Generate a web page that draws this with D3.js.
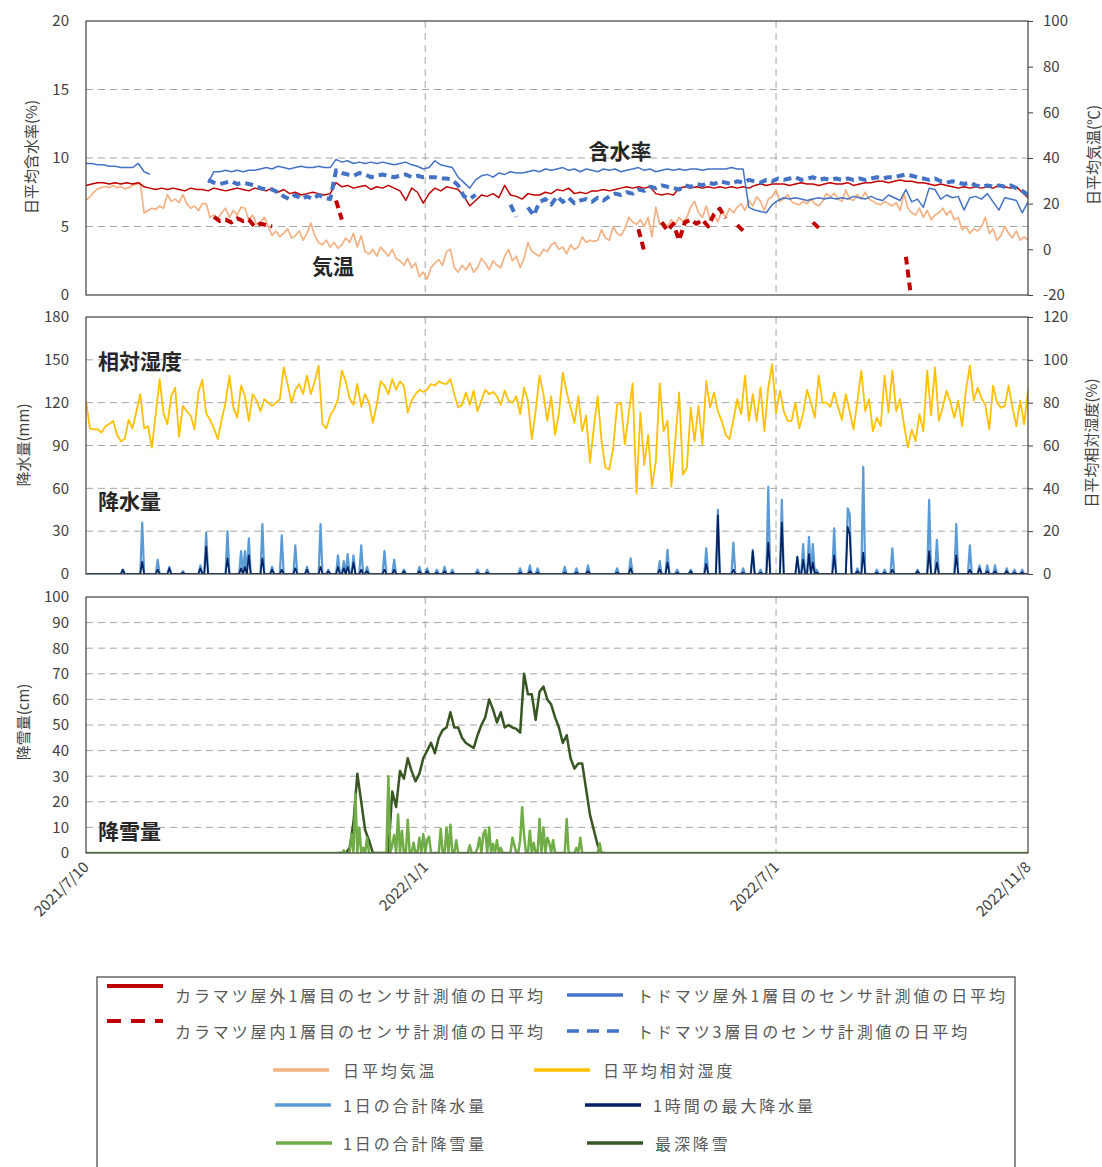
<!DOCTYPE html>
<html>
<head>
<meta charset="utf-8">
<script src="https://cdn.jsdelivr.net/npm/d3@7"></script>
<style>
  body { margin: 0; background: #fff; }
  svg text { font-family: "Noto Sans CJK JP", "Noto Sans", sans-serif; }
</style>
</head>
<body>
<svg id="chart" width="1102" height="1167"></svg>
<script>
// ---------- period ----------
const startDate = new Date(Date.UTC(2021, 6, 10));
const endDate = new Date(Date.UTC(2022, 10, 8));
const xTickDates = [new Date(Date.UTC(2021, 6, 10)), new Date(Date.UTC(2022, 0, 1)), new Date(Date.UTC(2022, 6, 1)), new Date(Date.UTC(2022, 10, 8))];
const xTickLabels = ["2021/7/10", "2022/1/1", "2022/7/1", "2022/11/8"];
const xGridDates = [new Date(Date.UTC(2022, 0, 1)), new Date(Date.UTC(2022, 6, 1))];

// ---------- axis ticks ----------
const moistureTicks = [0, 5, 10, 15, 20];
const tempTicks = [-20, 0, 20, 40, 60, 80, 100];
const rainTicks = [0, 30, 60, 90, 120, 150, 180];
const rhTicks = [0, 20, 40, 60, 80, 100, 120];
const snowTicks = [0, 10, 20, 30, 40, 50, 60, 70, 80, 90, 100];

// ---------- daily mean air temperature (℃), one value every 2 days ----------
const tempStepDays = 2;
const tempValues = [
  21.5,23,25,26.5,27,27.5,
  27,28,27,27.5,26.5,27,28,28.5,29,
  16,
  17,18,17.5,19,18,
  24,21,22,20.5,24,
  20,18,19,17,20,
  20,14,15,13.5,16,
  18,14,17,15,18.5,
  18,13,15,11,12,
  14,10,6,8,5.5,
  7,9,5,6,8,
  4,7,11.5,6,3,
  2,4,1,3,0.5,
  2,5,3,7,1,
  6,-1,-2,0,-3,
  1,-1,-3,0,-4,
  -5,-7,-4,-8,-6,
  -12,-10,-13,-8,-6,
  -4.5,-7,-1,0,-8,
  -10,-7,-9,-6,-10,
  -8,-4,-6,-9,-5,
  -7,-8,-3,0,-5,
  -3,-8,-4,3,-1,
  -2,-3,0,-1,2,
  3,0,1,-2,2,
  0,1,5.5,3,4,
  3.5,4,8.5,5,4,
  10,7,6,9,14,
  12,11,13,10,14,
  5.5,18.5,11,12,10,
  13,11,14,12,14,
  18.5,21,16,14,19,
  13,15,12,17,14,
  18,16,18.5,20,17,
  21.5,19,23,21,17,
  22,23,26,21,22,
  24,21,20,19.5,21,
  20,22,20,19,21,
  24.5,23,24.5,22,21,
  26,22,21.5,24,22,
  25,22,21,20,19.5,
  21,20,19,20.5,17,
  24.5,18,16,15,18,
  14,17,13,15,16,
  18,15,17,13,14,
  8.5,10,7,9,8,
  10,14,7,9,4,
  6,10,7,5,8,
  4,5.5,4
];

// ---------- daily mean relative humidity (%), one value every 2 days ----------
const rhStepDays = 2;
const rhValues = [
  81,68,67.5,67.5,66,69,70,71.5,65,62,
  63,72,68,76,84,68,69,59,75,91,
  75,70,83,87,64,78.5,76,74,67.5,85,
  90.6,75,72,68,63,72,80,92.6,78,73,
  88,83,71.5,84,81,76,81.6,80,78.5,80,
  81.6,96.5,88.7,80,86,88.7,84,92.6,84,90,
  97.3,70,68,74,77,81.6,95,90,82,79,
  88.7,78,84,80,70.6,79,90,88,84,91,
  86,90,88,75.4,81,84,86,85,86,88.7,
  88,90,89,88.7,91,84,77.7,79,84.8,79,
  85.6,76,81,86,84,85,83,79,85.6,81,
  80,83,74.6,87,81,63,76,92.6,84,71.5,
  83,65,75,94,85,77.7,70.6,83,66.7,74,
  52,68.3,83,62,49.6,48.8,59,79,80,60.5,
  75,89,37.7,75.4,51,65,40.8,52.6,89,66.7,
  71.5,40.8,62,84.8,46.4,49.6,77.7,62,78.5,60.5,
  90,77.7,84.8,76,71.5,65,63,72,81.6,74.6,
  92.6,71.5,84,71.5,87,66.7,87,98,75,85.6,
  76,71.5,71.5,80,68,75,86,80,73,92.6,
  80,80,78,84.8,78,72,84,76,67.5,81,
  95,76,81.6,66.7,73,69,92.6,75.4,95,76,
  81.6,70,59,67.5,62,74.6,66.7,95,74,96.5,
  71.5,78,85.6,80,73,81,69,86,97.3,81,
  87,82,79,67.5,88,80,77.7,78.5,88,77.7,
  69,81,70,85.6
];

// ---------- daily mean moisture content (%), one value every 3 days ----------
const moistureStepDays = 3;
// カラマツ屋外1層目
const karaOutValues = [
  8.0,8.1,8.2,8.2,8.1,8.2,8.1,8.2,8.1,8.2,
  7.9,7.8,7.7,7.8,7.7,7.8,7.7,7.6,7.8,7.7,
  7.7,7.6,7.8,7.7,7.6,7.7,7.8,7.7,7.6,7.8,
  7.7,7.6,7.8,7.5,7.7,7.4,7.5,7.3,7.4,7.5,
  7.4,7.3,7.4,8.2,7.9,8.0,7.8,7.9,8.0,7.7,
  7.9,7.8,8.0,7.8,7.6,6.9,7.8,7.5,6.7,7.4,
  7.8,7.6,7.9,7.8,7.7,7.2,6.5,6.9,7.3,7.2,
  7.4,7.1,8.0,7.3,7.2,7.0,7.4,7.3,7.3,7.5,
  7.4,7.7,7.6,7.8,7.4,7.5,7.4,7.6,7.6,7.7,
  7.6,7.7,7.8,7.9,7.8,7.9,7.8,7.9,7.4,7.3,
  7.4,7.3,7.8,7.9,7.8,7.9,7.8,7.9,7.8,7.9,
  7.8,7.9,7.8,7.9,7.8,8.0,8.1,8.0,8.1,8.1,
  8.1,8.0,8.1,8.2,8.1,8.1,8.0,8.1,8.2,8.1,
  8.1,8.2,8.0,8.1,8.2,8.2,8.3,8.3,8.2,8.3,
  8.4,8.3,8.3,8.2,8.2,8.1,8.0,8.1,8.0,7.9,
  7.8,7.9,7.8,7.9,7.8,7.9,7.8,8.0,7.9,7.8,
  7.9,7.5,7.1
];
// トドマツ屋外1層目
const todoOutValues = [
  9.6,9.6,9.5,9.5,9.4,9.4,9.3,9.3,9.3,9.6,
  9.0,8.8,null,null,null,null,null,null,null,null,
  null,8.2,9.0,9.0,9.1,9.0,9.1,9.0,9.1,9.1,
  9.2,9.3,9.2,9.4,9.3,9.2,9.3,9.4,9.3,9.3,
  9.4,9.3,9.3,9.9,9.7,9.8,9.6,9.7,9.6,9.7,
  9.6,9.7,9.6,9.5,9.6,9.7,9.5,9.4,9.2,9.3,
  9.8,9.5,9.4,9.3,8.6,8.2,7.8,8.4,8.7,8.8,
  8.6,8.9,8.8,9.0,8.9,8.9,9.0,9.1,9.0,9.2,
  9.1,9.2,9.3,9.1,9.2,9.0,9.2,9.1,9.0,9.2,
  9.1,9.2,9.0,9.1,9.2,9.3,9.1,9.2,9.0,9.1,
  9.2,9.1,9.2,9.1,9.2,9.2,9.1,9.2,9.2,9.2,
  9.2,9.3,9.2,9.2,6.4,6.2,6.1,6.0,6.6,6.9,
  7.1,7.0,7.1,7.0,6.9,7.0,7.1,7.0,7.1,7.0,
  7.1,7.0,7.2,7.1,7.0,7.2,7.0,6.9,7.3,7.1,
  6.9,7.7,6.8,7.0,6.4,7.8,7.7,7.0,7.3,7.1,
  7.2,6.2,7.1,7.2,7.0,7.4,6.8,6.2,7.1,7.0,
  6.9,6.0,6.8
];
// トドマツ3層目
const todo3Values = [
  null,null,null,null,null,null,null,null,null,null,
  null,null,null,null,null,null,null,null,null,null,
  null,8.4,8.2,8.1,8.2,8.3,8.1,8.2,8.1,8.0,
  7.8,7.7,7.7,7.5,7.2,7.0,7.3,7.0,7.2,7.0,
  7.3,7.1,7.0,9.1,8.9,8.8,8.7,8.9,8.8,8.6,
  8.7,8.8,8.7,8.6,8.7,8.8,8.6,8.7,8.6,8.6,
  8.6,8.5,8.5,8.4,8.0,7.2,7.0,7.3,null,null,
  null,null,null,6.6,5.7,null,6.4,5.8,6.8,7.0,
  6.6,7.2,6.8,7.1,6.7,6.9,7.0,6.8,7.1,6.9,
  7.2,7.4,7.3,7.5,7.4,7.7,7.6,7.9,7.8,8.0,
  7.9,7.8,7.7,8.0,7.9,8.1,8.0,8.2,8.1,8.3,
  8.2,8.1,8.3,8.2,8.4,8.3,8.2,8.4,8.3,8.5,
  8.4,8.5,8.6,8.4,8.5,8.6,8.4,8.5,8.4,8.5,
  8.4,8.5,8.4,8.5,8.4,8.5,8.6,8.5,8.6,8.6,
  8.7,8.8,8.7,8.6,8.5,8.4,8.5,8.3,8.2,8.3,
  8.2,8.1,8.2,8.0,7.9,8.0,7.9,8.0,7.9,8.0,
  7.8,7.6,7.3
];
// カラマツ屋内1層目: measured runs as [first step index, values]
const karaInRuns = [
  [22, [5.7,5.4,5.5,5.3,5.6,5.4,5.5,5.0,5.2,5.1,5.0]],
  [43, [6.9,5.5]],
  [95, [4.8,3.2]],
  [99, [5.3,4.7,5.2,4.0,5.3,5.5,5.2,5.5,5.0,5.9,6.3,5.6]],
  [112, [5.1,4.7]],
  [125, [5.3,4.9]],
  [141, [2.8,-0.5]]
];

// ---------- precipitation (mm): days since 2021/7/10 with rain ----------
const rainDays = [19,29,37,43,50,59,62,73,80,82,84,91,96,101,108,114,121,125,130,133,135,138,142,145,154,159,164,172,176,181,185,189,202,207,224,229,233,247,253,259,274,281,296,300,305,312,320,326,334,339,344,348,352,359,367,370,373,375,377,386,393,394,398,401,408,412,416,429,435,439,449,456,461,465,469,475,479,483];
const rainDailyTotal = [3,36,10,5,2,6,29,30,16,16,25,35,5,27,20,5,35,3,13,9,14,13,20,5,16,10,3,5,4,3,5,3,3,3,4,6,4,5,4,6,4,11,9,17,3,3,18,45,22,4,17,3,61,52,12,21,26,21,3,32,46,42,4,75,3,3,18,3,52,24,35,20,6,6,6,4,3,3];
const rainMaxHourly = [3,8.6,3,4,1,4,19,11,4,5,13,11,3,3,4,3,5,2,5,4,5,8,3,2,3,3,2,2,2,1,2,1,1,1,1,2,1,1,1,2,1,4,3,8,1,2,7,41,3,1,16,1,22,36,12,10,14,8,1,13,33,28,2,15,1,1,3,2,16,8,13,3,4,2,2,2,1,1];

// ---------- snow (cm) ----------
const snowfallDays = [133,137,139,141,143,145,156,158,159,161,163,166,169,172,174,176,177,183,186,188,191,198,202,203,205,206,208,210,212,214,220,221,224,225,226,229,231,234,236,238,239,241,248,253,255,265];
const snowfallValues = [1,7.4,23,10,2,6,30,3,7,15,8.7,13,4,6,7.4,5,6.4,9.4,10,11,5,3,2,6,7.4,9,10,3.5,5,2,6,3,5,17.9,7,8.7,4,13.3,10,6,4,5,13.3,2,6,3.8];
const snowDepthFirstDay = 130;
const snowDepthStepDays = 2;
const snowDepthValues = [
  0,0,0,2,12,31,20,9,5,0,
  0,0,0,0,24,18,32,29,37,32,
  28,31,37,40,43,39,45,48,49,55,
  49,49,45,43,42,41,46,50,53,60,
  56,51,55,49,50,49,48.5,47,70,62,
  62,52,63,65,60,58,53,49,43,46,
  37,33,35,35,25,15,9,3,0,0
];

// ---------- legend entries ----------
const legendNames = [
  "カラマツ屋外1層目のセンサ計測値の日平均", "トドマツ屋外1層目のセンサ計測値の日平均",
  "カラマツ屋内1層目のセンサ計測値の日平均", "トドマツ3層目のセンサ計測値の日平均",
  "日平均気温", "日平均相対湿度",
  "1日の合計降水量", "1時間の最大降水量",
  "1日の合計降雪量", "最深降雪"
];

// ================= drawing =================
const C = {
  red: "#c00000", blue: "#4472c4", salmon: "#f4b183", yellow: "#ffc000",
  rain: "#5b9bd5", navy: "#002060", snow: "#70ad47", depth: "#375623",
  grid: "#a6a6a6", frame: "#404040", text: "#404040"
};
const legendStyles = [
  {color: C.red, width: 4, dash: null}, {color: C.blue, width: 3.5, dash: null},
  {color: C.red, width: 4, dash: "14,10"}, {color: C.blue, width: 3.5, dash: "12,8"},
  {color: C.salmon, width: 3.5, dash: null}, {color: C.yellow, width: 3.5, dash: null},
  {color: C.rain, width: 3.5, dash: null}, {color: C.navy, width: 3.5, dash: null},
  {color: C.snow, width: 3.5, dash: null}, {color: C.depth, width: 3.5, dash: null}
];
const legendLayout = [
  {lx: 107, ly: 986, tx: 175, ty: 995}, {lx: 567, ly: 995, tx: 637, ty: 995},
  {lx: 107, ly: 1021, tx: 175, ty: 1031}, {lx: 567, ly: 1031, tx: 637, ty: 1031},
  {lx: 273, ly: 1070, tx: 343, ty: 1070}, {lx: 534, ly: 1070, tx: 603, ty: 1070},
  {lx: 275, ly: 1105, tx: 343, ty: 1105}, {lx: 585, ly: 1105, tx: 653, ty: 1105},
  {lx: 276, ly: 1143, tx: 343, ty: 1143}, {lx: 587, ly: 1143, tx: 655, ty: 1143}
];

const svg = d3.select("#chart");
svg.append("rect").attr("width", 1102).attr("height", 1167).attr("fill", "#fff");

const X0 = 86, X1 = 1028;
const x = d3.scaleUtc().domain([startDate, endDate]).range([X0, X1]);
const totalDays = d3.utcDay.count(startDate, endDate);
const dayDate = d => d3.utcDay.offset(startDate, d);

const stepSeries = (vals, step, first = 0) => vals.map((v, i) => ({date: dayDate(first + i * step), v}));
const eventSeries = (days, vals) => {
  const arr = d3.range(totalDays + 1).map(() => 0);
  days.forEach((d, i) => { arr[d] = vals[i]; });
  return arr.map((v, i) => ({date: dayDate(i), v}));
};
const runsSeries = (runs, step, n) => {
  const arr = d3.range(n).map(() => null);
  runs.forEach(([s, vals]) => vals.forEach((v, k) => { arr[s + k] = v; }));
  return stepSeries(arr, step);
};

function drawPanel(id, y0, y1, yLeft, leftTicks) {
  const g = svg.append("g");
  svg.append("clipPath").attr("id", id).append("rect")
    .attr("x", X0).attr("y", y0).attr("width", X1 - X0).attr("height", y1 - y0);
  // horizontal grid
  g.selectAll(".hg").data(leftTicks.filter(t => yLeft(t) > y0 + 1 && yLeft(t) < y1 - 1))
    .join("line").attr("x1", X0).attr("x2", X1)
    .attr("y1", d => yLeft(d)).attr("y2", d => yLeft(d))
    .attr("stroke", C.grid).attr("stroke-width", 1).attr("stroke-dasharray", "7,5");
  // vertical grid
  g.selectAll(".vg").data(xGridDates).join("line")
    .attr("x1", d => x(d)).attr("x2", d => x(d)).attr("y1", y0).attr("y2", y1)
    .attr("stroke", C.grid).attr("stroke-width", 1).attr("stroke-dasharray", "7,5");
  return svg.append("g").attr("clip-path", `url(#${id})`);
}

function frame(y0, y1) {
  svg.append("rect").attr("x", X0).attr("y", y0).attr("width", X1 - X0).attr("height", y1 - y0)
    .attr("fill", "none").attr("stroke", C.frame).attr("stroke-width", 1.2);
}

const plainNumber = d => String(d);
function leftAxis(scale, ticks, xPos) {
  const a = svg.append("g").attr("transform", `translate(${xPos},0)`)
    .call(d3.axisLeft(scale).tickValues(ticks).tickFormat(plainNumber).tickSize(0).tickPadding(17));
  a.select(".domain").remove();
  a.selectAll("text").attr("font-size", 15).attr("fill", C.text)
    .style("font-family", '"Noto Sans CJK JP", sans-serif');
}
function rightAxis(scale, ticks) {
  const a = svg.append("g").attr("transform", `translate(${X1},0)`)
    .call(d3.axisRight(scale).tickValues(ticks).tickFormat(plainNumber).tickSize(5).tickPadding(10));
  a.select(".domain").remove();
  a.selectAll("line").attr("stroke", C.frame);
  a.selectAll("text").attr("font-size", 15).attr("fill", C.text)
    .style("font-family", '"Noto Sans CJK JP", sans-serif');
}
function vTitle(text, cx, cy) {
  svg.append("text").attr("transform", `translate(${cx},${cy}) rotate(-90)`)
    .attr("text-anchor", "middle").attr("dominant-baseline", "central")
    .attr("font-size", 15).attr("fill", C.text).text(text);
}
function tag(text, tx, ty, anchor) {
  svg.append("text").attr("x", tx).attr("y", ty).attr("text-anchor", anchor)
    .attr("dominant-baseline", "central").attr("font-size", 21).attr("font-weight", "bold")
    .attr("fill", "#262626").text(text);
}
function drawLine(g, data, y, color, width, dash) {
  g.append("path").datum(data)
    .attr("d", d3.line().defined(d => d.v != null).x(d => x(d.date)).y(d => y(d.v)))
    .attr("fill", "none").attr("stroke", color).attr("stroke-width", width)
    .attr("stroke-linejoin", "round")
    .attr("stroke-dasharray", dash || null);
}

// ---- top panel: moisture content & temperature ----
const topY0 = 21, topY1 = 295;
const yMoist = d3.scaleLinear().domain([0, 20]).range([topY1, topY0]);
const yTemp = d3.scaleLinear().domain([-20, 100]).range([topY1, topY0]);
const topPlot = drawPanel("clipTop", topY0, topY1, yMoist, moistureTicks);
drawLine(topPlot, stepSeries(tempValues, tempStepDays), yTemp, C.salmon, 1.7);
const nMoist = karaOutValues.length;
drawLine(topPlot, stepSeries(karaOutValues, moistureStepDays), yMoist, C.red, 1.5);
drawLine(topPlot, stepSeries(todoOutValues, moistureStepDays), yMoist, C.blue, 1.5);
drawLine(topPlot, runsSeries(karaInRuns, moistureStepDays, nMoist), yMoist, C.red, 4, "8,5");
drawLine(topPlot, stepSeries(todo3Values, moistureStepDays), yMoist, C.blue, 4, "8,5");
frame(topY0, topY1);
leftAxis(yMoist, moistureTicks, X0);
rightAxis(yTemp, tempTicks);
vTitle("日平均含水率(%)", 30, 157);
vTitle("日平均気温(℃)", 1092, 155);
tag("含水率", 620, 150, "middle");
tag("気温", 333, 265, "middle");

// ---- middle panel: precipitation & humidity ----
const midY0 = 317, midY1 = 574;
const yRain = d3.scaleLinear().domain([0, 180]).range([midY1, midY0]);
const yRH = d3.scaleLinear().domain([0, 120]).range([midY1, midY0]);
const midPlot = drawPanel("clipMid", midY0, midY1, yRain, rainTicks);
drawLine(midPlot, stepSeries(rhValues, rhStepDays), yRH, C.yellow, 1.8);
drawLine(midPlot, eventSeries(rainDays, rainDailyTotal), yRain, C.rain, 2.2);
drawLine(midPlot, eventSeries(rainDays, rainMaxHourly), yRain, C.navy, 1.7);
frame(midY0, midY1);
leftAxis(yRain, rainTicks, X0);
rightAxis(yRH, rhTicks);
vTitle("降水量(mm)", 22, 445);
vTitle("日平均相対湿度(%)", 1090, 443);
tag("相対湿度", 98, 360, "start");
tag("降水量", 98, 500, "start");

// ---- bottom panel: snow ----
const botY0 = 597, botY1 = 853;
const ySnow = d3.scaleLinear().domain([0, 100]).range([botY1, botY0]);
const botPlot = drawPanel("clipBot", botY0, botY1, ySnow, snowTicks);
drawLine(botPlot, stepSeries(snowDepthValues, snowDepthStepDays, snowDepthFirstDay), ySnow, C.depth, 2.5);
drawLine(botPlot, eventSeries(snowfallDays, snowfallValues), ySnow, C.snow, 2.5);
frame(botY0, botY1);
leftAxis(ySnow, snowTicks, X0);
vTitle("降雪量(cm)", 22, 722);
tag("降雪量", 98, 830, "start");

// x labels, rotated
svg.append("g").selectAll("text").data(xTickDates).join("text")
  .attr("transform", d => `translate(${x(d) + 4},${868}) rotate(-45)`)
  .attr("text-anchor", "end").attr("font-size", 15).attr("fill", C.text)
  .text((d, i) => xTickLabels[i]);

// ---- legend ----
svg.append("rect").attr("x", 97).attr("y", 977).attr("width", 918).attr("height", 200)
  .attr("fill", "none").attr("stroke", C.frame).attr("stroke-width", 1.2);
const lg = svg.append("g");
legendNames.forEach((name, i) => {
  const p = legendLayout[i], s = legendStyles[i];
  lg.append("line").attr("x1", p.lx).attr("x2", p.lx + 56).attr("y1", p.ly).attr("y2", p.ly)
    .attr("stroke", s.color).attr("stroke-width", s.width).attr("stroke-dasharray", s.dash);
  lg.append("text").attr("x", p.tx).attr("y", p.ty).attr("dominant-baseline", "central")
    .attr("font-size", 16).attr("fill", "#595959").style("letter-spacing", "2.9px").text(name);
});
</script>
</body>
</html>
